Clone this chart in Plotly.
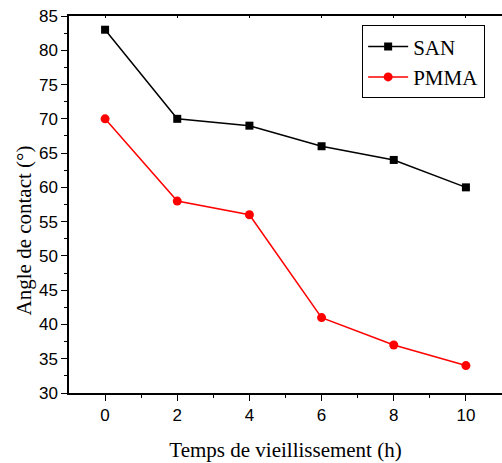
import plotly.graph_objects as go

# Ageing time (hours) and contact angle (degrees)
temps = [0, 2, 4, 6, 8, 10]
san = [83, 70, 69, 66, 64, 60]
pmma = [70, 58, 56, 41, 37, 34]

serif = "Liberation Serif, Times New Roman, serif"
sans = "Liberation Sans, Arial, sans-serif"

fig = go.Figure()
fig.add_trace(go.Scatter(
    x=temps, y=san, name="SAN", mode="lines+markers",
    line=dict(color="black", width=1.5),
    marker=dict(symbol="square", size=8, color="black"),
))
fig.add_trace(go.Scatter(
    x=temps, y=pmma, name="PMMA", mode="lines+markers",
    line=dict(color="#ff0000", width=1.5),
    marker=dict(symbol="circle", size=9, color="#ff0000"),
))
# invisible trace to carry the top axis
fig.add_trace(go.Scatter(x=[None], y=[None], xaxis="x2", showlegend=False))

fig.update_layout(
    width=502, height=463,
    margin=dict(l=69, r=0, t=16, b=70),
    plot_bgcolor="white", paper_bgcolor="white",
    showlegend=True,
    legend=dict(
        x=0.677, y=0.975, xanchor="left", yanchor="top",
        bordercolor="black", borderwidth=1, bgcolor="white",
        font=dict(family=serif, size=21, color="black"),
        itemwidth=40, tracegroupgap=0,
    ),
    xaxis=dict(
        range=[-1, 11], tickvals=[0, 2, 4, 6, 8, 10],
        showgrid=False, zeroline=False,
        showline=True, linecolor="black", linewidth=1.5,
        ticks="outside", ticklen=6, tickwidth=1.2, tickcolor="black",
        minor=dict(tickvals=[1, 3, 5, 7, 9], ticks="outside", ticklen=3, tickcolor="black"),
        tickfont=dict(family=sans, size=17, color="black"),
        title=dict(text="Temps de vieillissement (h)",
                   font=dict(family=serif, size=21, color="black"), standoff=18),
    ),
    xaxis2=dict(
        overlaying="x", side="top", range=[-1, 11],
        tickvals=[0, 2, 4, 6, 8, 10], showticklabels=False,
        showgrid=False, zeroline=False,
        showline=True, linecolor="black", linewidth=1.5,
        ticks="inside", ticklen=2, tickcolor="black",
    ),
    yaxis=dict(
        range=[30, 85], tickvals=list(range(30, 86, 5)),
        showgrid=False, zeroline=False,
        showline=True, linecolor="black", linewidth=1.5,
        ticks="outside", ticklen=6, tickwidth=1.2, tickcolor="black",
        minor=dict(dtick=2.5, ticks="outside", ticklen=3, tickcolor="black"),
        tickfont=dict(family=sans, size=17, color="black"),
    ),
    annotations=[dict(
        text="Angle de contact (°)", textangle=-90,
        xref="paper", yref="paper", x=-0.105, y=0.43,
        xanchor="center", yanchor="middle", showarrow=False,
        font=dict(family=serif, size=21, color="black"),
    )],
)

fig.write_html("out.html")
